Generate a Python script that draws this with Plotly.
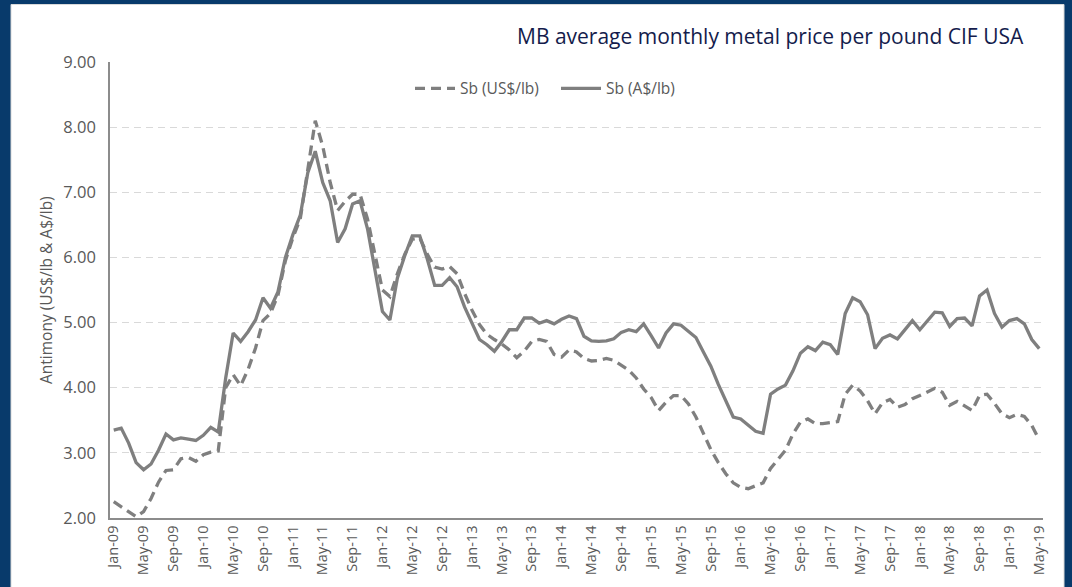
import plotly.graph_objects as go

# Monthly categories Jan-09 .. May-19
month_names = ["Jan", "Feb", "Mar", "Apr", "May", "Jun", "Jul", "Aug", "Sep", "Oct", "Nov", "Dec"]
months = [f"{m}-{y:02d}" for y in range(9, 20) for m in month_names][:125]
tick_labels = months[::4]

sb_usd = [2.25, 2.17, 2.09, 2.02, 2.10, 2.30, 2.55, 2.73, 2.74, 2.91, 2.93, 2.87,
          2.97, 3.01, 3.03, 4.00, 4.20, 4.03, 4.28, 4.61, 5.03, 5.14, 5.42, 5.95,
          6.30, 6.60, 7.35, 8.10, 7.71, 7.15, 6.72, 6.86, 6.97, 6.97, 6.59, 6.03,
          5.50, 5.40, 5.75, 6.05, 6.28, 6.30, 6.05, 5.85, 5.82, 5.86, 5.75, 5.45,
          5.19, 4.97, 4.82, 4.74, 4.67, 4.58, 4.46, 4.56, 4.71, 4.74, 4.71, 4.51,
          4.47, 4.58, 4.55, 4.45, 4.41, 4.42, 4.45, 4.42, 4.35, 4.27, 4.15, 3.98,
          3.85, 3.65, 3.78, 3.88, 3.88, 3.75, 3.55, 3.30, 3.05, 2.85, 2.68, 2.54,
          2.47, 2.45, 2.49, 2.54, 2.76, 2.91, 3.04, 3.29, 3.47, 3.52, 3.45, 3.45,
          3.46, 3.48, 3.90, 4.04, 3.95, 3.80, 3.60, 3.77, 3.82, 3.70, 3.74, 3.83,
          3.88, 3.94, 3.99, 3.93, 3.73, 3.79, 3.72, 3.65, 3.88, 3.90, 3.76, 3.60,
          3.54, 3.59, 3.56, 3.42, 3.20]

sb_aud = [3.35, 3.38, 3.15, 2.85, 2.74, 2.83, 3.04, 3.29, 3.20, 3.23, 3.21, 3.19,
          3.27, 3.39, 3.32, 4.15, 4.84, 4.71, 4.86, 5.04, 5.38, 5.22, 5.47, 6.00,
          6.35, 6.65, 7.30, 7.63, 7.15, 6.87, 6.23, 6.44, 6.82, 6.87, 6.44, 5.83,
          5.17, 5.04, 5.68, 6.03, 6.33, 6.33, 5.98, 5.57, 5.57, 5.69, 5.55, 5.24,
          4.99, 4.74, 4.66, 4.56, 4.71, 4.89, 4.89, 5.07, 5.07, 4.99, 5.03, 4.98,
          5.05, 5.10, 5.06, 4.79, 4.72, 4.71, 4.72, 4.75, 4.85, 4.89, 4.86, 4.98,
          4.80, 4.61, 4.84, 4.98, 4.96, 4.86, 4.77, 4.55, 4.33, 4.05, 3.80, 3.55,
          3.52, 3.42, 3.33, 3.30, 3.90, 3.98, 4.04, 4.26, 4.53, 4.63, 4.57, 4.70,
          4.66, 4.51, 5.14, 5.38, 5.32, 5.12, 4.60, 4.76, 4.81, 4.75, 4.89, 5.03,
          4.89, 5.02, 5.16, 5.15, 4.94, 5.06, 5.07, 4.95, 5.41, 5.50, 5.14, 4.93,
          5.03, 5.06, 4.98, 4.74, 4.60]

LINE = "#7f7f7f"
TEXT = "#595959"
NAVY = "#083a6b"
FONT = "Open Sans"

fig = go.Figure()
fig.add_trace(go.Scatter(x=months, y=sb_usd, mode="lines", name="Sb (US$/lb)",
                         line=dict(color=LINE, width=3.3, dash="10px,6px")))
fig.add_trace(go.Scatter(x=months, y=sb_aud, mode="lines", name="Sb (A$/lb)",
                         line=dict(color=LINE, width=3.3)))

L, R, T, B = 110, 1043, 62, 522
W, H = 1072, 587
pw, ph = R - L, B - T

def px_x(x):
    return (x - L) / pw

def px_y(y):
    return (B - y) / ph

fig.add_shape(type="rect", xref="paper", yref="paper", layer="below",
              x0=px_x(11), x1=px_x(1064), y0=px_y(600), y1=px_y(4),
              fillcolor="white", line=dict(color="#d9d9d9", width=1))

fig.add_annotation(text="MB average monthly metal price per pound CIF USA",
                   xref="paper", yref="paper", x=px_x(1026), y=px_y(36),
                   xanchor="right", yanchor="middle", showarrow=False,
                   font=dict(family=FONT, size=21, color="#141c4c"))

fig.add_annotation(text="Antimony (US$/lb & A$/lb)", textangle=-90,
                   xref="paper", yref="paper", x=px_x(46), y=px_y(292),
                   xanchor="center", yanchor="middle", showarrow=False,
                   font=dict(family=FONT, size=15.5, color=TEXT))

fig.update_layout(
    width=W, height=H,
    margin=dict(l=L, r=W - R, t=T, b=H - B),
    paper_bgcolor=NAVY, plot_bgcolor="white",
    showlegend=True,
    legend=dict(orientation="h", x=px_x(410), y=px_y(89), xanchor="left", yanchor="middle",
                font=dict(family=FONT, size=15.5, color=TEXT), bgcolor="rgba(0,0,0,0)",
                itemwidth=40, entrywidth=91, entrywidthmode="pixels"),
    xaxis=dict(type="category", range=[-0.5, len(months) - 0.5],
               tickmode="array", tickvals=tick_labels, ticktext=tick_labels,
               tickangle=-90, showgrid=False, showline=True, linecolor="#8c8c8c", linewidth=1.5,
               ticks="", tickfont=dict(family=FONT, size=14.5, color=TEXT)),
    yaxis=dict(range=[2, 9], dtick=1, tickformat=".2f", showgrid=True,
               gridcolor="#d9d9d9", gridwidth=1.3, griddash="7px,5px",
               showline=True, linecolor="#8c8c8c", linewidth=1.5, zeroline=False,
               ticks="", ticklabelstandoff=9,
               tickfont=dict(family=FONT, size=16.5, color=TEXT)),
)

fig.write_html("out.html", config={"displayModeBar": False},
               post_script="document.body.style.margin='0px';document.body.style.overflow='hidden';")
